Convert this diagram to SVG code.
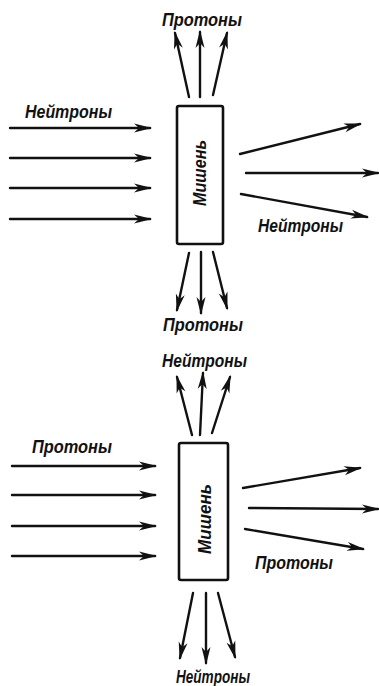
<svg xmlns="http://www.w3.org/2000/svg" width="379" height="686" viewBox="0 0 379 686">
<style>
.ln{stroke:#111;stroke-width:2.4;fill:none;stroke-linecap:round;marker-end:url(#ah)}
.box{fill:#fff;stroke:#111;stroke-width:2.6}
.lbl{font-family:"Liberation Sans",Arial,sans-serif;font-style:italic;font-weight:bold;font-size:18px;fill:#111}
.tgt{font-family:"Liberation Sans",Arial,sans-serif;font-style:italic;font-weight:bold;font-size:18px;fill:#111}
</style>
<defs>
<marker id="ah" markerUnits="userSpaceOnUse" markerWidth="22" markerHeight="12" viewBox="-19 -6 22 12" refX="-1" refY="0" orient="auto">
<path d="M1,0 L-17,-4.5 L-12,0 L-17,4.5 Z" fill="#111"/>
</marker>
</defs>
<rect width="379" height="686" fill="#fff"/>
<g id="connectors">
<line class="ln" x1="10" y1="128" x2="150" y2="128"/>
<line class="ln" x1="10" y1="158" x2="150" y2="158"/>
<line class="ln" x1="10" y1="188" x2="150" y2="188"/>
<line class="ln" x1="10" y1="219" x2="150" y2="219"/>
<line class="ln" x1="189" y1="97" x2="175" y2="33"/>
<line class="ln" x1="200" y1="97" x2="200" y2="32"/>
<line class="ln" x1="213" y1="95" x2="227" y2="33"/>
<line class="ln" x1="240" y1="154" x2="360" y2="124"/>
<line class="ln" x1="246" y1="173" x2="378" y2="173"/>
<line class="ln" x1="241" y1="194" x2="367" y2="217"/>
<line class="ln" x1="189" y1="253" x2="177" y2="310"/>
<line class="ln" x1="201" y1="252" x2="201" y2="313"/>
<line class="ln" x1="213" y1="252" x2="227" y2="308"/>
<line class="ln" x1="192" y1="435" x2="177" y2="377"/>
<line class="ln" x1="200" y1="435" x2="203" y2="373"/>
<line class="ln" x1="212" y1="433" x2="230" y2="377"/>
<line class="ln" x1="12" y1="466" x2="155" y2="466"/>
<line class="ln" x1="12" y1="495" x2="155" y2="495"/>
<line class="ln" x1="12" y1="526" x2="155" y2="526"/>
<line class="ln" x1="12" y1="556" x2="155" y2="556"/>
<line class="ln" x1="243" y1="488" x2="360" y2="468"/>
<line class="ln" x1="249" y1="508" x2="378" y2="509"/>
<line class="ln" x1="245" y1="529" x2="363" y2="549"/>
<line class="ln" x1="193" y1="593" x2="180" y2="658"/>
<line class="ln" x1="206" y1="593" x2="206" y2="663"/>
<line class="ln" x1="218" y1="593" x2="235" y2="657"/>
</g>
<g id="target1">
<rect class="box" x="177" y="106" width="46" height="138" rx="2"/>
<text class="tgt" transform="translate(206,173) rotate(-90)" text-anchor="middle" textLength="66" lengthAdjust="spacingAndGlyphs">Мишень</text>
</g>
<g id="target2">
<rect class="box" x="179" y="443" width="49" height="137" rx="2"/>
<text class="tgt" transform="translate(211,519) rotate(-90)" text-anchor="middle" textLength="70" lengthAdjust="spacingAndGlyphs">Мишень</text>
</g>
<g id="labels">
<text class="lbl" x="25" y="118" textLength="87" lengthAdjust="spacingAndGlyphs">Нейтроны</text>
<text class="lbl" x="162" y="26" textLength="80" lengthAdjust="spacingAndGlyphs">Протоны</text>
<text class="lbl" x="258" y="232" textLength="85" lengthAdjust="spacingAndGlyphs">Нейтроны</text>
<text class="lbl" x="163" y="331" textLength="80" lengthAdjust="spacingAndGlyphs">Протоны</text>
<text class="lbl" x="162" y="367" textLength="85" lengthAdjust="spacingAndGlyphs">Нейтроны</text>
<text class="lbl" x="32" y="453" textLength="80" lengthAdjust="spacingAndGlyphs">Протоны</text>
<text class="lbl" x="255" y="569" textLength="78" lengthAdjust="spacingAndGlyphs">Протоны</text>
<text class="lbl" x="176" y="683" textLength="74" lengthAdjust="spacingAndGlyphs">Нейтроны</text>
</g>
</svg>
